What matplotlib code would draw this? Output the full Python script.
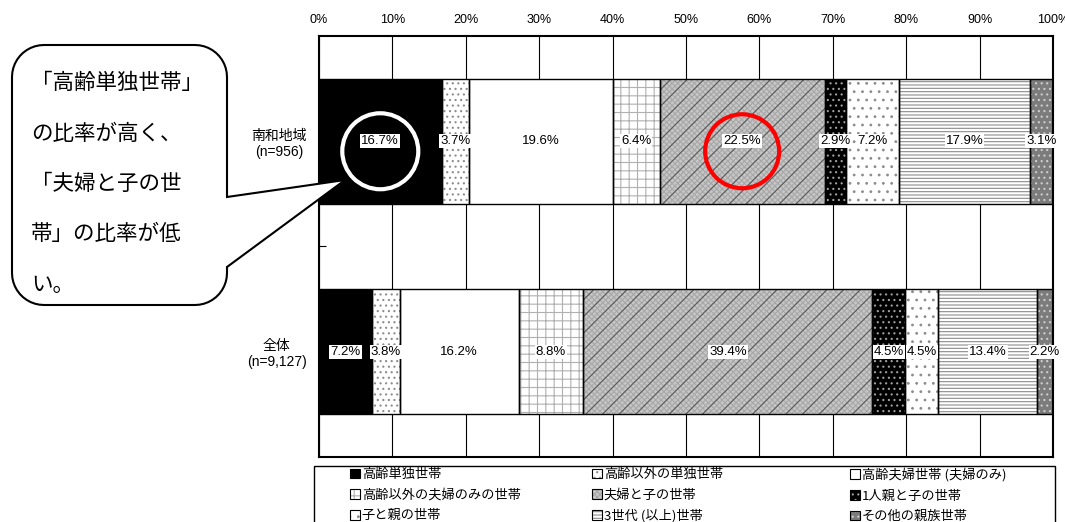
import numpy as np
import matplotlib.pyplot as plt
from matplotlib.patches import Patch, Circle, Rectangle, PathPatch
from matplotlib.path import Path

plt.rcParams['font.family'] = ['Liberation Sans', 'Noto Sans CJK JP']
plt.rcParams['hatch.linewidth'] = 0.8

groups = ['南和地域\n(n=956)', '全体\n(n=9,127)']
categories = ['高齢単独世帯', '高齢以外の単独世帯', '高齢夫婦世帯 (夫婦のみ)',
              '高齢以外の夫婦のみの世帯', '夫婦と子の世帯', '1人親と子の世帯',
              '子と親の世帯', '3世代 (以上)世帯', 'その他の親族世帯']
nanwa = [16.7, 3.7, 19.6, 6.4, 22.5, 2.9, 7.2, 17.9, 3.1]
zentai = [7.2, 3.8, 16.2, 8.8, 39.4, 4.5, 4.5, 13.4, 2.2]
xticks = np.arange(0, 101, 10)

# face colour, hatch, hatch colour, second hatch, second hatch colour
styles = [
    ('black', '', 'black', '', None),
    ('white', '...', '#8c8c8c', '', None),
    ('white', '', 'white', '', None),
    ('white', '++', '#b0b0b0', '', None),
    ('#c6c6c6', 'xxxxxx', '#a8a8a8', '//', '#5a5a5a'),
    ('black', '...', '#a0a0a0', '', None),
    ('white', '..', '#8c8c8c', '', None),
    ('white', '-----', '#8c8c8c', '', None),
    ('#7c7c7c', '...', '#cfcfcf', '', None),
]

W, H = 1065, 522
fig = plt.figure(figsize=(W / 100, H / 100), dpi=100)
ax = fig.add_axes([319 / W, 65 / H, 734 / W, 421 / H])

ypos = [0, 2]
for row, y in zip([nanwa, zentai], ypos):
    left = 0
    for v, (fc, h, hc, h2, hc2) in zip(row, styles):
        ax.barh(y, v, left=left, height=1.185, color=fc, hatch=h,
                edgecolor=hc, linewidth=0, zorder=2)
        if h2:
            ax.barh(y, v, left=left, height=1.185, fill=False, hatch=h2,
                    edgecolor=hc2, linewidth=0, zorder=2)
        ax.barh(y, v, left=left, height=1.185, fill=False,
                edgecolor='black', linewidth=1, zorder=3)
        ax.text(left + v / 2, y, f'{v:.1f}%', ha='center', va='center',
                fontsize=9.5, zorder=4,
                bbox=dict(facecolor='white', edgecolor='none', pad=0.8))
        left += v

ax.set_xlim(0, 100)
ax.set_ylim(3, -1)
ax.set_xticks(xticks)
ax.set_xticklabels([f'{t}%' for t in xticks])
ax.xaxis.tick_top()
ax.tick_params(axis='x', length=0, pad=7, labelsize=9)
ax.set_yticks([0, 1, 2])
ax.set_yticklabels([groups[0], '', groups[1]])
ax.tick_params(axis='y', direction='in', length=5, pad=9, labelsize=10)
for t in ax.get_yticklabels():
    t.set_multialignment('center')
ax.grid(axis='x', color='black', linewidth=0.8)
ax.set_axisbelow(True)
for s in ax.spines.values():
    s.set_linewidth(1.5)

# annotation layer in pixel coordinates
ov = fig.add_axes([0, 0, 1, 1], zorder=10)
ov.set_xlim(0, W)
ov.set_ylim(H, 0)
ov.axis('off')
ov.patch.set_alpha(0)


def seg_center(row, i, y):
    x = sum(row[:i]) + row[i] / 2
    px, py = ax.transData.transform((x, y))
    return px, H - py


cx, cy = seg_center(nanwa, 0, 0)
ov.add_patch(Circle((cx, cy + 10), 38, fill=False, ec='white', lw=3))
cx, cy = seg_center(nanwa, 4, 0)
ov.add_patch(Circle((cx, cy + 10), 37, fill=False, ec='red', lw=3))

# speech bubble
x0, y0, x1, y1, r = 12, 45, 227, 305, 32
t1, t2, tip = 197, 267, (345, 180)
verts = [(x0 + r, y0), (x1 - r, y0)]
for a in np.linspace(-90, 0, 12):
    verts.append((x1 - r + r * np.cos(np.radians(a)), y0 + r + r * np.sin(np.radians(a))))
verts += [(x1, t1), tip, (x1, t2), (x1, y1 - r)]
for a in np.linspace(0, 90, 12):
    verts.append((x1 - r + r * np.cos(np.radians(a)), y1 - r + r * np.sin(np.radians(a))))
verts.append((x0 + r, y1))
for a in np.linspace(90, 180, 12):
    verts.append((x0 + r + r * np.cos(np.radians(a)), y1 - r + r * np.sin(np.radians(a))))
verts.append((x0, y0 + r))
for a in np.linspace(180, 270, 12):
    verts.append((x0 + r + r * np.cos(np.radians(a)), y0 + r + r * np.sin(np.radians(a))))
verts.append((x0 + r, y0))
ov.add_patch(PathPatch(Path(verts, closed=True), facecolor='white',
                       edgecolor='black', lw=1.5))

bubble_lines = ['「高齢単独世帯」', 'の比率が高く、', '「夫婦と子の世', '帯」の比率が低', 'い。']
for i, s in enumerate(bubble_lines):
    ov.text(31, 83 + i * 50.5, s, fontsize=15.5, ha='left', va='center',
            family=['Noto Sans CJK JP', 'DejaVu Sans'])

# legend
ov.add_patch(Rectangle((314, 466), 741, 80, fill=False, ec='black', lw=1))
col_x = [350, 592, 850]
for j, xx in enumerate(col_x):
    hs, ls = [], []
    for i in range(j, 9, 3):
        fc, h, hc, h2, hc2 = styles[i]
        hs.append((Patch(facecolor=fc, hatch=h, edgecolor=hc, lw=0),
                   Patch(fill=False, edgecolor='black', lw=0.8)))
        ls.append(categories[i])
    fig.legend(hs, ls, loc='upper left', bbox_to_anchor=(xx / W, 1 - 468 / H),
               frameon=False, borderpad=0, borderaxespad=0,
               handlelength=0.75, handleheight=0.75, handletextpad=0.15,
               labelspacing=0.58, prop={'family': ['Noto Sans CJK JP'], 'size': 9.5})

fig.savefig('out.png', dpi=100)
